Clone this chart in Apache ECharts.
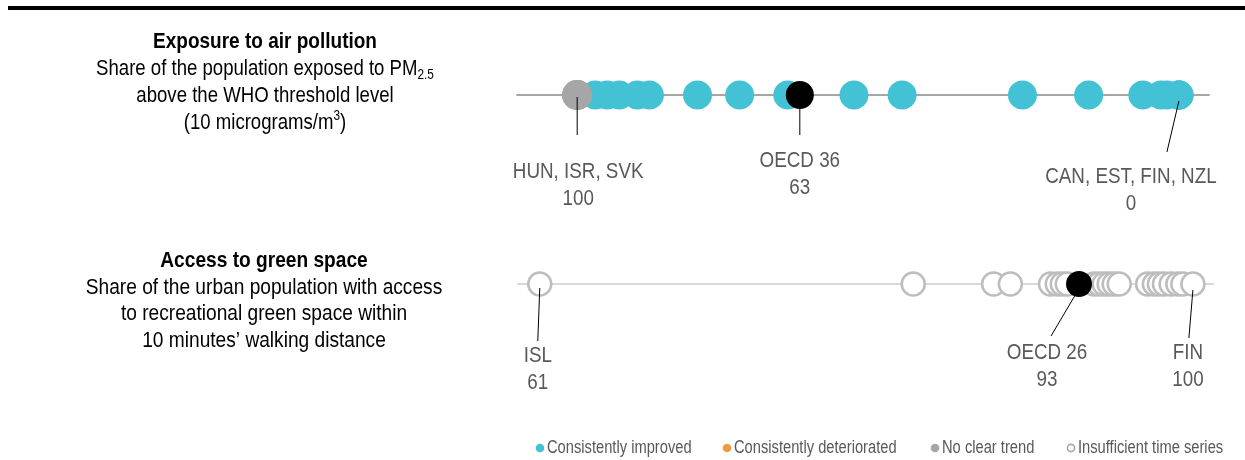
<!DOCTYPE html>
<html>
<head>
<meta charset="utf-8">
<script src="https://cdn.jsdelivr.net/npm/echarts@6/dist/echarts.min.js"></script>
<style>
html,body{margin:0;padding:0;background:#fff;}
#chart{width:1245px;height:460px;}
</style>
</head>
<body>
<div id="chart"></div>
<script>
// ---------- DATA ----------
// Row 1: share of population exposed to PM2.5 above WHO threshold (%), lower is better
const airImproved = [97, 95, 93, 90, 88, 80, 73, 65, 54, 46, 26, 15, 6, 3, 2, 0, 0, 0, 0];
const airNoTrend = [100, 100, 100];
const airOECD = [63];
// Row 2: share of urban population with access to green space (%)
const greenInsufficient = [61, 83.3, 88.1, 89.1, 91.5, 91.9, 92.2, 92.5, 94.1, 94.4, 94.7, 95.0, 95.3, 95.6,
  97.3, 97.7, 98.0, 98.3, 98.7, 99.1, 99.4, 100];
const greenOECD = [93.2];
const legendNames = ['Consistently improved', 'Consistently deteriorated', 'No clear trend', 'Insufficient time series'];
// Annotations: [row, value, label line 1, label line 2]
const annotations = [
  [0, 100, 'HUN, ISR, SVK', '100'],
  [0, 63, 'OECD 36', '63'],
  [0, 0, 'CAN, EST, FIN, NZL', '0'],
  [1, 61, 'ISL', '61'],
  [1, 93.2, 'OECD 26', '93'],
  [1, 100, 'FIN', '100']
];
// ---------- LAYOUT (offsets of leaders/labels relative to the point, px) ----------
const annoLayout = [
  {lx0: 0, ly0: 2, lx1: 0, ly1: 40, tx: 1, ty: 64},
  {lx0: 0, ly0: 2, lx1: 0, ly1: 40, tx: 0, ty: 53},
  {lx0: 0, ly0: 6, lx1: -12, ly1: 57, tx: -48, ty: 69},
  {lx0: 0, ly0: 4, lx1: -2, ly1: 57, tx: -2, ty: 59},
  {lx0: -2, ly0: 8, lx1: -28, ly1: 52, tx: -32, ty: 56},
  {lx0: 0, ly0: 6, lx1: -4, ly1: 54, tx: -5, ty: 56}
];
const legendX = [540, 727, 935, 1071];

const FONT = "'Liberation Sans',Arial,sans-serif";
const SX = 0.845;          // horizontal condensing to mimic a narrow face
const CYAN = '#43c2d5', ORANGE = '#ee9a43', GRAY = '#a6a6a6', RING = '#bdbdbd';

const chart = echarts.init(document.getElementById('chart'), null, {renderer: 'canvas'});

function xAx(gridIndex, min, max, inverse, lineColor) {
  return {
    type: 'value', gridIndex, min, max, inverse,
    axisLine: {show: true, onZero: true, lineStyle: {color: lineColor, width: 2}},
    axisTick: {show: false}, axisLabel: {show: false}, splitLine: {show: false}
  };
}
function yAx(gridIndex) {
  return {type: 'value', gridIndex, min: -1, max: 1, show: false};
}
const pts = arr => arr.map(v => [v, 0]);

const option = {
  animation: false,
  grid: [
    {left: 517, right: 36, top: 75, height: 40},
    {left: 518, right: 32, top: 264, height: 40}
  ],
  xAxis: [xAx(0, -5, 110, true, '#a6a6a6'), xAx(1, 59.7, 101.2, false, '#d9d9d9')],
  yAxis: [yAx(0), yAx(1)],
  series: [
    {name: legendNames[0], type: 'scatter', xAxisIndex: 0, yAxisIndex: 0, data: pts(airImproved),
      symbolSize: 29, itemStyle: {color: CYAN, opacity: 1}, z: 2},
    {name: legendNames[1], type: 'scatter', xAxisIndex: 0, yAxisIndex: 0, data: [],
      symbolSize: 29, itemStyle: {color: ORANGE}, z: 2},
    {name: legendNames[2], type: 'scatter', xAxisIndex: 0, yAxisIndex: 0, data: pts(airNoTrend),
      symbolSize: 30, itemStyle: {color: GRAY, opacity: 1}, z: 3},
    {name: 'OECD', type: 'scatter', xAxisIndex: 0, yAxisIndex: 0, data: pts(airOECD),
      symbolSize: 28, itemStyle: {color: '#000', opacity: 1}, z: 4},
    {name: legendNames[3], type: 'scatter', xAxisIndex: 1, yAxisIndex: 1, data: pts(greenInsufficient),
      symbolSize: 23, itemStyle: {color: '#fff', borderColor: RING, borderWidth: 2.5, opacity: 1}, z: 2},
    {name: 'OECD ', type: 'scatter', xAxisIndex: 1, yAxisIndex: 1, data: pts(greenOECD),
      symbolSize: 26, itemStyle: {color: '#000', opacity: 1}, z: 4}
  ]
};
chart.setOption(option);

// Static graphics: top rule and left-hand descriptions
const graphics = [
  {type: 'rect', left: 8, top: 6, shape: {width: 1237, height: 4}, style: {fill: '#000'}, z: 10},
  {type: 'text', x: 265, y: 28, scaleX: SX, z: 10, style: {
    text: '{b|Exposure to air pollution}\n{n|Share of the population exposed to PM}{sub|2.5}\n{n|above the WHO threshold level}\n{n|(10 micrograms/m}{sup|3}{n|)}',
    align: 'center', verticalAlign: 'top', fill: '#000', fontFamily: FONT,
    rich: {
      b: {fontSize: 22.5, fontWeight: 'bold', fontFamily: FONT, lineHeight: 27, fill: '#000'},
      n: {fontSize: 22, fontFamily: FONT, lineHeight: 27, fill: '#000'},
      sub: {fontSize: 14, fontFamily: FONT, lineHeight: 27, verticalAlign: 'bottom', fill: '#000'},
      sup: {fontSize: 14, fontFamily: FONT, lineHeight: 27, verticalAlign: 'top', fill: '#000'}
    }
  }},
  {type: 'text', x: 264, y: 248, scaleX: 0.87, z: 10, style: {
    text: '{b|Access to green space}\n{n|Share of the urban population with access}\n{n|to recreational green space within}\n{n|10 minutes\u2019 walking distance}',
    align: 'center', verticalAlign: 'top', fill: '#000', fontFamily: FONT,
    rich: {
      b: {fontSize: 22, fontWeight: 'bold', fontFamily: FONT, lineHeight: 26.5, fill: '#000'},
      n: {fontSize: 22, fontFamily: FONT, lineHeight: 26.5, fill: '#000'}
    }
  }}
];

// Legend (drawn as graphics so the narrow text can be matched)
const legendStyles = [
  {fill: CYAN}, {fill: ORANGE}, {fill: GRAY}, {fill: '#fff', stroke: GRAY, lineWidth: 1.6}
];
legendNames.forEach((n, i) => {
  const x = legendX[i];
  graphics.push({type: 'circle', z: 10, shape: {cx: x, cy: 448, r: i === 3 ? 3.6 : 4.3}, style: legendStyles[i]});
  graphics.push({type: 'text', z: 10, x: x + 7, y: 448.5, scaleX: 0.84, style: {
    text: n, align: 'left', verticalAlign: 'middle', fill: '#595959', fontSize: 17.5, fontFamily: FONT
  }});
});

// Leaders and labels positioned through the chart's own scales
annotations.forEach((a, i) => {
  const [row, value, l1, l2] = a;
  const L = annoLayout[i];
  const p = chart.convertToPixel({gridIndex: row}, [value, 0]);
  graphics.push({type: 'line', z: 10, shape: {x1: p[0] + L.lx0, y1: p[1] + L.ly0, x2: p[0] + L.lx1, y2: p[1] + L.ly1},
    style: {stroke: '#000', lineWidth: 1}});
  graphics.push({type: 'text', z: 10, x: p[0] + L.tx, y: p[1] + L.ty, scaleX: 0.855, style: {
    text: l1 + '\n' + l2, align: 'center', verticalAlign: 'top', fill: '#595959',
    fontSize: 22, fontFamily: FONT, lineHeight: 26.5
  }});
});
chart.setOption({graphic: graphics});
</script>
</body>
</html>
